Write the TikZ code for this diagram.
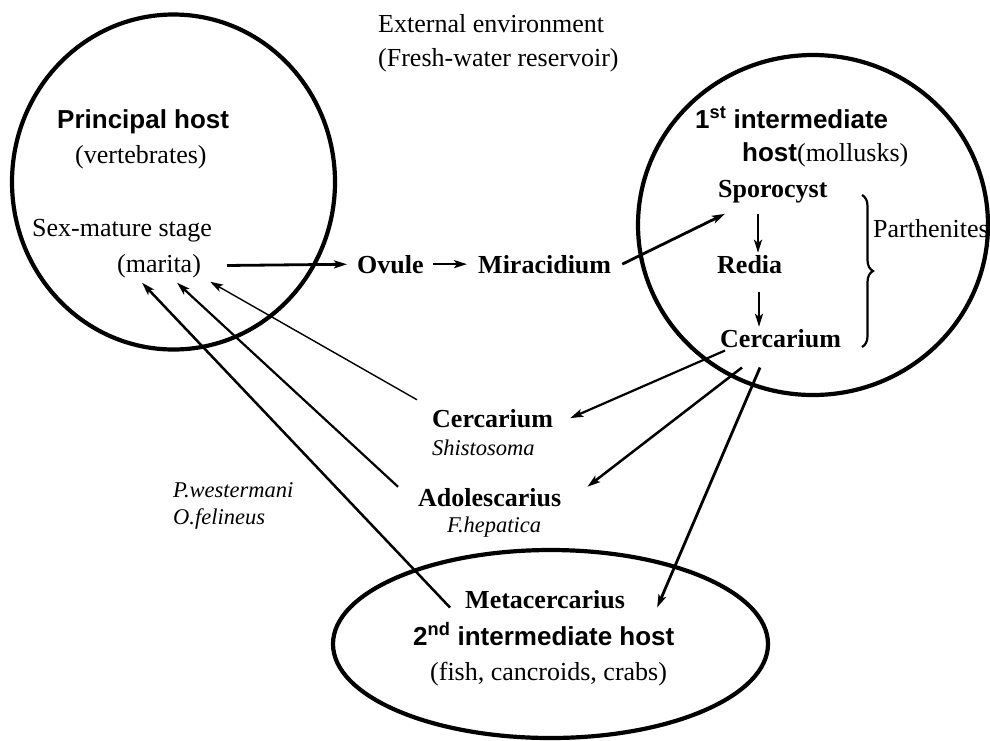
\documentclass[tikz,border=0pt]{standalone}
\usepackage{fontspec}
\setmainfont{Liberation Serif}
\setsansfont{Liberation Sans}
\usetikzlibrary{arrows.meta,decorations.pathreplacing}

\begin{document}
\begin{tikzpicture}[x=1pt,y=-1pt,>={Stealth[length=13pt,width=8pt,inset=3pt]},
	txt/.style={anchor=base west,inner sep=0pt,font=\fontsize{26}{30}\selectfont},
	stage/.style={txt,font=\fontsize{26}{30}\selectfont\bfseries},
	host/.style={txt,font=\fontsize{26}{30}\selectfont\sffamily\bfseries},
	species/.style={txt,font=\fontsize{22.5}{26}\selectfont\itshape},
	hostline/.style={line width=4.2pt}]
	
	%----------------------
	% Thông số
	%----------------------
	\def\thick{2.8pt}   % mũi tên chính
	\def\mid{2.2pt}     % mũi tên vừa
	\def\thin{1.4pt}    % mũi tên mảnh
	
	\useasboundingbox (0,0) rectangle (990,740);
	
	% Các vật chủ
	\draw[hostline] (173.5,182) ellipse [x radius=161.5, y radius=167.5];
	\draw[hostline] (813,225) ellipse [x radius=175, y radius=170];
	\draw[hostline] (550.5,644) ellipse [x radius=217.5, y radius=94];
	
	% Môi trường ngoài
	\node[txt] (ext) at (378,32) {External environment};
	\node[txt] (res) at (378,66) {(Fresh-water reservoir)};
	
	% Vật chủ chính
	\node[host] (principal) at (57,128) {Principal host};
	\node[txt] (vert) at (75,163) {(vertebrates)};
	\node[txt] (sexm) at (32,236) {Sex-mature stage};
	\node[txt] (marita) at (117,272) {(marita)};
	
	\node[stage] (ovule) at (357,273) {Ovule};
	\node[stage] (mirac) at (478,273) {Miracidium};
	
	% Vật chủ trung gian 1
	\node[host] (first) at (695,128) {1\textsuperscript{st} intermediate};
	\node[txt] (mollusk) at (742,161) {{\sffamily\bfseries host}(mollusks)};
	\node[stage] (sporo) at (718,197) {Sporocyst};
	\node[stage] (redia) at (717,273) {Redia};
	\node[stage] (cercR) at (720,347) {Cercarium};
	\node[txt] (parth) at (873,237) {Parthenites};
	
	% Ấu trùng ngoài môi trường
	\node[stage] (cercM) at (432,427) {Cercarium};
	\node[species] (shist) at (432,455) {Shistosoma};
	\node[stage] (adol) at (418,506) {Adolescarius};
	\node[species] (fhep) at (447,532) {F.hepatica};
	\node[species] (pwest) at (173,497) {P.westermani};
	\node[species] (ofel) at (173,524) {O.felineus};
	
	% Vật chủ trung gian 2
	\node[stage] (meta) at (465,608) {Metacercarius};
	\node[host] (second) at (413,645) {2\textsuperscript{nd} intermediate host};
	\node[txt] (fish) at (430,680) {(fish, cancroids, crabs)};
	
	%----------------------
	% Mũi tên
	%----------------------
	\draw[->,line width=\thick,shorten <=26pt,shorten >=10pt] (marita.east) -- (ovule.west);
	\draw[->,line width=\mid,shorten <=9pt,shorten >=11pt] (ovule.east) -- (mirac.west);
	\draw[->,line width=\thick] ([xshift=11pt]mirac.east) -- ([shift={(7,11)}]sporo.south west);
	\draw[->,line width=\mid] ([shift={(40,11)}]sporo.south west) -- ([shift={(41,-2)}]redia.north west);
	\draw[->,line width=\mid] ([shift={(42,19)}]redia.south west) -- ([shift={(39,-2)}]cercR.north west);
	
	\draw[->,line width=\mid] ([shift={(5,3)}]cercR.south west) -- ([xshift=17pt]cercM.east);
	\draw[->,line width=2.5pt] ([shift={(22,20)}]cercR.south west) -- ([shift={(26,-1)}]adol.north east);
	\draw[->,line width=\thick] ([shift={(40,20)}]cercR.south west) -- ([shift={(32,-1)}]meta.south east);
	
	\draw[->,line width=\thin] ([shift={(-15,-9)}]cercM.north west) -- ([shift={(9,4)}]marita.south east);
	\draw[->,line width=\mid] ([shift={(-20,-1)}]adol.north west) -- ([shift={(18,5)}]marita.south);
	\draw[->,line width=2.5pt] ([shift={(-15,-1)}]meta.south west) -- ([shift={(-17,5)}]marita.south);
	
	% Ngoặc parthenites
	\coordinate (brtop) at (862,195);
	\coordinate (brbot) at (862,347);
	\draw[line width=2.2pt,decorate,decoration={brace,amplitude=11pt}] (brtop) -- (brbot);
	
\end{tikzpicture}
\end{document}
